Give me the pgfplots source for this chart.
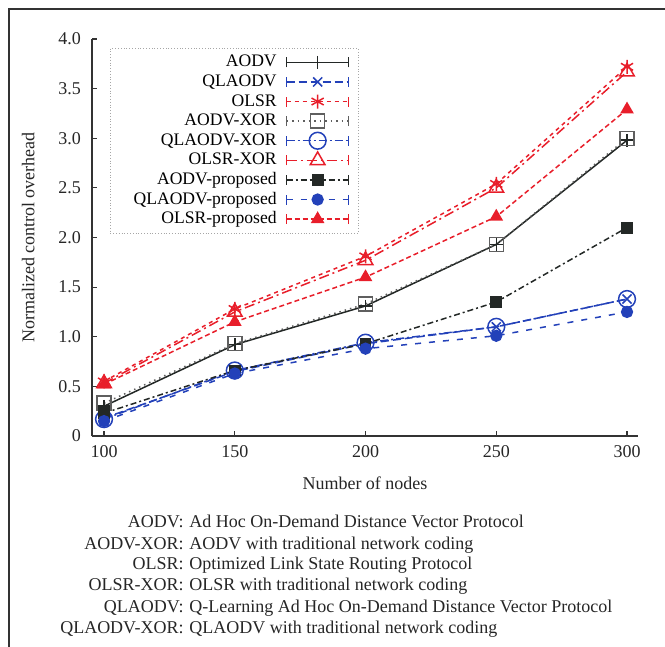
\documentclass[border=0pt]{standalone}
\usepackage{pgfplots}
\pgfplotsset{compat=1.18}
\usepackage{fontspec}
\setmainfont{Liberation Serif}
\definecolor{myblue}{RGB}{35,65,185}
\definecolor{myred}{RGB}{232,30,42}
\definecolor{mydark}{RGB}{35,40,38}
\definecolor{mygray}{RGB}{95,95,95}
\begin{document}
\begin{tikzpicture}[x=1pt,y=1pt]
\useasboundingbox (0,0) rectangle (332.5,-323.5);
\draw[line width=0.8pt, black!80] (4.5,-323.5) -- (4.5,-4.5) -- (332.5,-4.5);
\begin{axis}[
  at={(46pt,-218pt)}, anchor=south west,
  scale only axis, width=273pt, height=198.5pt,
  xmin=95.4, xmax=304.2, ymin=0, ymax=4,
  axis lines*=left,
  axis line style={line width=0.6pt, black!80},
  tick align=inside, major tick length=2.5pt,
  tick style={line width=0.6pt, black!80},
  xtick={100,150,200,250,300},
  ytick={0,0.5,1,1.5,2,2.5,3,3.5,4},
  yticklabels={0,0.5,1.0,1.5,2.0,2.5,3.0,3.5,4.0},
  /pgf/number format/assume math mode=true,
  ticklabel style={font=\fontsize{9}{11}\selectfont, black!85},
  yticklabel style={xshift=-2pt},
  xticklabel style={yshift=-1pt},
  xlabel={Number of nodes},
  ylabel={Normalized control overhead},
  label style={font=\fontsize{9}{11}\selectfont, black!85},
  xlabel style={at={(axis description cs:0.5,-0.118)}, anchor=center},
  ylabel style={at={(axis description cs:-0.117,0.5)}, anchor=center},
  legend plot pos=right,
  legend cell align=right,
  legend style={at={(0.033,0.977)}, anchor=north west,
    draw=gray!70, densely dotted, fill=white,
    font=\fontsize{8.8}{11}\selectfont,
    nodes={inner sep=0.6pt, text height=6.6pt, text depth=2pt, solid},
    row sep=0pt, column sep=4pt, inner xsep=4.5pt, inner ysep=2pt},
  legend image code/.code={
    \draw[#1,mark=none,solid] (0pt,-2.5pt) -- (0pt,2.5pt) (31pt,-2.5pt) -- (31pt,2.5pt);
    \draw[mark repeat=2,mark phase=2,#1] plot coordinates {(0pt,0pt) (15.5pt,0pt) (31pt,0pt)};
  },
  every axis plot/.append style={line width=0.75pt},
]
% AODV
\addplot[mydark, solid, mark=+, mark size=3.2pt, mark options={solid}] coordinates {
 (100,0.30) (150,0.92) (200,1.31) (250,1.93) (300,2.98)};
\addlegendentry{AODV}
% QLAODV
\addplot[myblue, dash pattern=on 4pt off 2pt, mark=x, mark size=3.2pt, mark options={solid}] coordinates {
 (100,0.18) (150,0.65) (200,0.93) (250,1.10) (300,1.38)};
\addlegendentry{QLAODV}
% OLSR
\addplot[myred, dash pattern=on 2pt off 2pt, mark=asterisk, mark size=3.5pt, mark options={solid}] coordinates {
 (100,0.55) (150,1.28) (200,1.81) (250,2.54) (300,3.72)};
\addlegendentry{OLSR}
% AODV-XOR
\addplot[mygray, dotted, mark=square, mark size=3.5pt, mark options={solid}] coordinates {
 (100,0.33) (150,0.93) (200,1.33) (250,1.93) (300,3.00)};
\addlegendentry{AODV-XOR}
% QLAODV-XOR
\addplot[myblue, dash pattern=on 4pt off 1.5pt on 1pt off 1.5pt, mark=o, mark size=4.2pt, mark options={solid}] coordinates {
 (100,0.17) (150,0.66) (200,0.94) (250,1.10) (300,1.38)};
\addlegendentry{QLAODV-XOR}
% OLSR-XOR
\addplot[myred, dash pattern=on 5pt off 2pt on 1pt off 2pt, mark=triangle, mark size=4.2pt, mark options={solid}] coordinates {
 (100,0.53) (150,1.25) (200,1.77) (250,2.50) (300,3.67)};
\addlegendentry{OLSR-XOR}
% AODV-proposed
\addplot[mydark, dash pattern=on 3pt off 1.5pt on 1pt off 1.5pt, mark=square*, mark size=2.6pt, mark options={solid}] coordinates {
 (100,0.23) (150,0.66) (200,0.93) (250,1.35) (300,2.10)};
\addlegendentry{AODV-proposed}
% QLAODV-proposed
\addplot[myblue, dash pattern=on 3pt off 4pt, mark=*, mark size=2.7pt, mark options={solid}] coordinates {
 (100,0.15) (150,0.63) (200,0.88) (250,1.01) (300,1.25)};
\addlegendentry{\hspace*{6.5pt}QLAODV-proposed}
% OLSR-proposed
\addplot[myred, dash pattern=on 2.5pt off 1.5pt, mark=triangle*, mark size=3.2pt, mark options={solid}] coordinates {
 (100,0.52) (150,1.15) (200,1.60) (250,2.21) (300,3.29)};
\addlegendentry{OLSR-proposed}
\end{axis}
\begin{scope}[every node/.style={font=\fontsize{9}{11}\selectfont, text=black!85, inner sep=0pt}]
\node[anchor=base east] at (92,-263.5) {AODV:};
\node[anchor=base west] at (94.5,-263.5) {Ad Hoc On-Demand Distance Vector Protocol};
\node[anchor=base east] at (92,-274.5) {AODV-XOR:};
\node[anchor=base west] at (94.5,-274.5) {AODV with traditional network coding};
\node[anchor=base east] at (92,-284.5) {OLSR:};
\node[anchor=base west] at (94.5,-284.5) {Optimized Link State Routing Protocol};
\node[anchor=base east] at (92,-295) {OLSR-XOR:};
\node[anchor=base west] at (94.5,-295) {OLSR with traditional network coding};
\node[anchor=base east] at (92,-306) {QLAODV:};
\node[anchor=base west] at (94.5,-306) {Q-Learning Ad Hoc On-Demand Distance Vector Protocol};
\node[anchor=base east] at (92,-316.5) {QLAODV-XOR:};
\node[anchor=base west] at (94.5,-316.5) {QLAODV with traditional network coding};
\end{scope}
\end{tikzpicture}
\end{document}
